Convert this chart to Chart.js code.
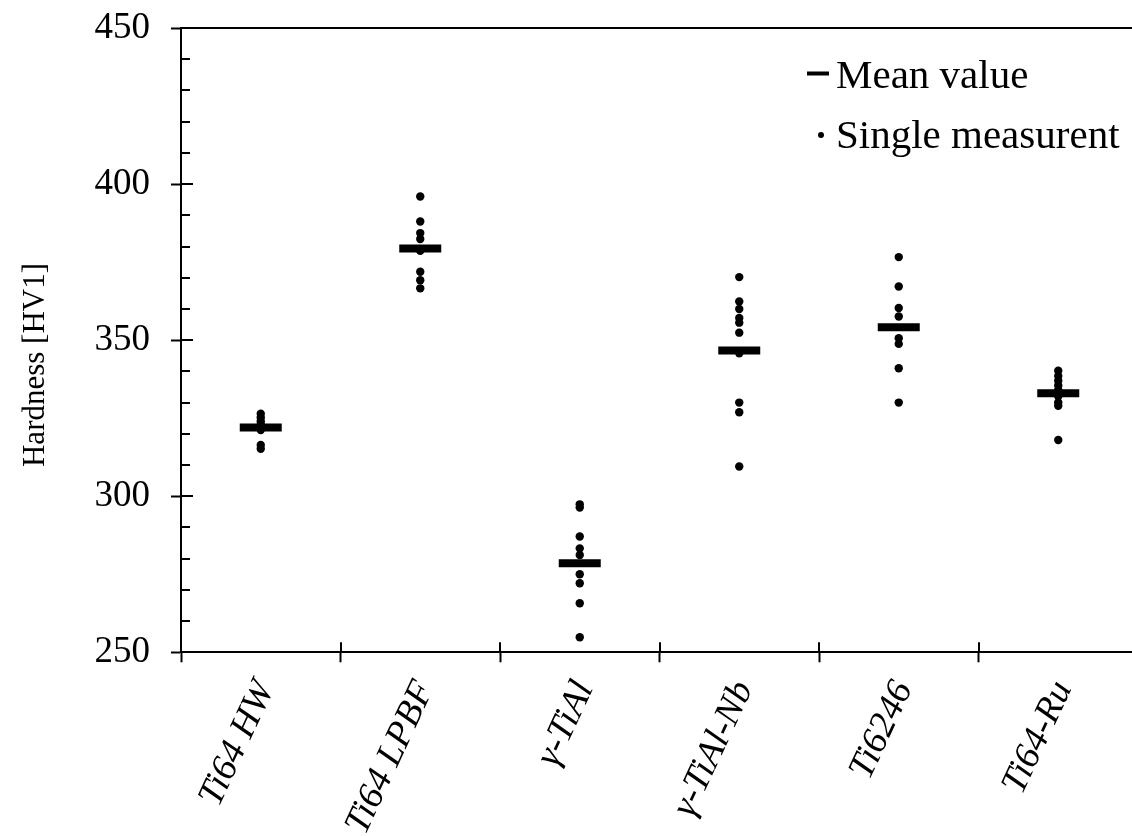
<!DOCTYPE html>
<html>
<head>
<meta charset="utf-8">
<script src="https://cdn.jsdelivr.net/npm/chart.js@4.4.1/dist/chart.umd.min.js"></script>
<style>
  html, body { margin: 0; padding: 0; overflow: hidden; background: #ffffff; }
  #wrap { position: absolute; left: 0; top: 0; width: 1138px; height: 836px; }
</style>
</head>
<body>
<div id="wrap"><canvas id="chart"></canvas></div>
<script>
// Alloys tested
const categories = ['Ti64 HW', 'Ti64 LPBF', 'γ-TiAl', 'γ-TiAl-Nb', 'Ti6246', 'Ti64-Ru'];

// Mean hardness per alloy [HV1]
const meanValues = [322.0, 379.4, 278.5, 346.7, 354.1, 333.0];

// Single HV1 indentations per alloy
const ti64HW      = [326.4, 325.2, 324.0, 323.0, 322.2, 321.2, 316.4, 315.2];
const ti64LPBF    = [396.0, 388.0, 384.3, 382.4, 378.6, 371.9, 369.2, 366.6];
const gammaTiAl   = [297.4, 296.4, 287.1, 283.3, 281.2, 275.0, 272.1, 265.7, 254.8];
const gammaTiAlNb = [370.2, 362.4, 360.0, 357.1, 355.6, 352.4, 345.8, 330.0, 326.9, 309.5];
const ti6246      = [376.6, 367.2, 360.3, 357.6, 350.6, 348.8, 341.0, 330.0];
const ti64Ru      = [340.2, 338.5, 337.0, 335.5, 334.0, 332.0, 330.0, 329.0, 318.0];

const singleSeries = [ti64HW, ti64LPBF, gammaTiAl, gammaTiAlNb, ti6246, ti64Ru];

// Hardness axis
const yMin = 250;
const yMax = 450;
const yMajorStep = 50;
const yMinorStep = 10;

const axisTitle = 'Hardness [HV1]';
const legendLabels = ['Mean value', 'Single measurent'];

const SERIF = '"Liberation Serif", "Times New Roman", serif';
const INK = '#000000';

const meanPoints = categories.map((c, i) => ({ x: c, y: meanValues[i] }));
const singlePoints = singleSeries.flatMap((vals, i) => vals.map(v => ({ x: categories[i], y: v })));

// Inward halves of the tick marks, the rotated axis title and the legend box
const decorations = {
  id: 'decorations',
  afterDraw(chart) {
    const { ctx, chartArea, scales } = chart;
    const xs = scales.x, ys = scales.y;
    ctx.save();
    ctx.strokeStyle = INK;
    ctx.lineWidth = 2;
    ctx.lineCap = 'butt';

    // y ticks pointing into the plot
    ys.ticks.forEach(t => {
      const py = Math.round(ys.getPixelForValue(t.value));
      const len = (t.value % yMajorStep === 0) ? 12 : 9;
      ctx.beginPath();
      ctx.moveTo(chartArea.left, py);
      ctx.lineTo(chartArea.left + len, py);
      ctx.stroke();
    });

    // x ticks (category boundaries) pointing into the plot
    for (let i = 0; i <= categories.length; i++) {
      const px = Math.round(xs.getPixelForValue(i - 0.5));
      ctx.beginPath();
      ctx.moveTo(px, chartArea.bottom);
      ctx.lineTo(px, chartArea.bottom - 10);
      ctx.stroke();
    }

    // y axis title
    ctx.save();
    ctx.translate(36, 365);
    ctx.rotate(-Math.PI / 2);
    ctx.fillStyle = INK;
    ctx.font = '31px ' + SERIF;
    ctx.textAlign = 'center';
    ctx.textBaseline = 'middle';
    ctx.fillText(axisTitle, 0, 0);
    ctx.restore();

    // legend
    ctx.fillStyle = INK;
    ctx.font = '41px ' + SERIF;
    ctx.textAlign = 'left';
    ctx.textBaseline = 'alphabetic';
    ctx.fillRect(807, 71.5, 22, 4);
    ctx.fillText(legendLabels[0], 836, 88);
    ctx.beginPath();
    ctx.arc(821, 135, 3, 0, Math.PI * 2);
    ctx.fill();
    ctx.fillText(legendLabels[1], 836, 148);
    ctx.restore();
  }
};

Chart.defaults.font.family = SERIF;
Chart.defaults.color = INK;

new Chart(document.getElementById('chart'), {
  type: 'scatter',
  data: {
    datasets: [
      {
        label: legendLabels[0],
        data: meanPoints,
        pointStyle: 'line',
        pointRadius: 21,
        pointBorderWidth: 8,
        borderColor: INK,
        backgroundColor: INK,
        showLine: false
      },
      {
        label: legendLabels[1],
        data: singlePoints,
        pointStyle: 'circle',
        pointRadius: 4.2,
        pointBorderWidth: 0,
        borderColor: INK,
        backgroundColor: INK,
        showLine: false
      }
    ]
  },
  options: {
    responsive: true,
    maintainAspectRatio: false,
    animation: false,
    events: [],
    layout: { autoPadding: false, padding: { left: 13, top: 28, right: 0, bottom: 0 } },
    plugins: {
      legend: { display: false },
      tooltip: { enabled: false }
    },
    scales: {
      x: {
        type: 'category',
        labels: categories,
        position: 'bottom',
        offset: true,
        grid: {
          offset: true,
          drawOnChartArea: false,
          drawTicks: true,
          tickLength: 10,
          tickWidth: 2,
          tickColor: INK
        },
        border: { display: true, color: INK, width: 2 },
        ticks: {
          autoSkip: false,
          minRotation: 65,
          maxRotation: 65,
          padding: 12,
          labelOffset: 5,
          color: INK,
          font: { family: SERIF, size: 37, style: 'italic' }
        },
        afterFit(s) {
          s.height = 183.7;
          s.paddingLeft = 0;
          s.paddingRight = 0;
        }
      },
      x2: {
        type: 'category',
        labels: categories,
        position: 'top',
        offset: true,
        grid: { display: true, drawOnChartArea: false, drawTicks: false },
        border: { display: true, color: INK, width: 2 },
        ticks: { display: false },
        afterFit(s) {
          s.height = 0;
          s.paddingLeft = 0;
          s.paddingRight = 0;
        }
      },
      y: {
        type: 'linear',
        min: yMin,
        max: yMax,
        grid: {
          drawOnChartArea: false,
          drawTicks: true,
          tickLength: 10,
          tickWidth: 2,
          tickColor: ctx => (ctx.tick && ctx.tick.value % yMajorStep === 0) ? INK : 'rgba(0,0,0,0)'
        },
        border: { display: true, color: INK, width: 2 },
        ticks: {
          stepSize: yMinorStep,
          autoSkip: false,
          padding: 21,
          color: INK,
          font: { family: SERIF, size: 37 },
          callback: v => (v % yMajorStep === 0 ? String(v) : '')
        },
        afterFit(s) {
          s.width = 168;
          s.paddingTop = 0;
          s.paddingBottom = 0;
        }
      }
    }
  },
  plugins: [decorations]
});
</script>
</body>
</html>
